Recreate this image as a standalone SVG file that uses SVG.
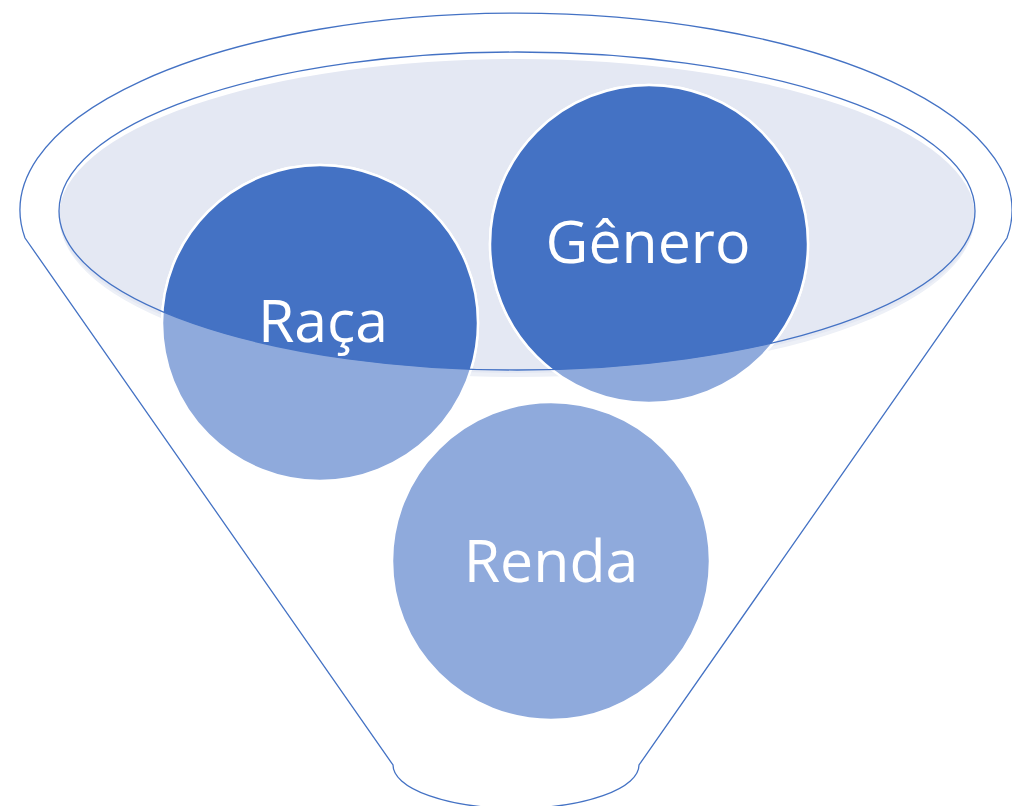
<svg xmlns="http://www.w3.org/2000/svg" width="1012" height="806" viewBox="0 0 1012 806">
<style>
.lbl{font-family:"Open Sans","Liberation Sans",Arial,sans-serif;font-size:59px;fill:#FFFFFF;text-anchor:middle}
.cl{fill:#8FAADC;stroke:#FFFFFF;stroke-width:2.5}
.cd{fill:#4472C4;stroke:#FFFFFF;stroke-width:2.5}
</style>
<defs>
<clipPath id="inner"><ellipse cx="517" cy="211" rx="458" ry="159"/></clipPath>
</defs>
<rect width="1012" height="806" fill="#FFFFFF"/>
<g id="funnel">
<path d="M 25 238 L 393 765 A 122 43 0 0 0 639 765 L 1007 238 A 496 197 0 1 0 25 238 Z" fill="#FFFFFF" stroke="#4472C4" stroke-width="1.3"/>
<ellipse cx="517" cy="219" rx="457" ry="158" fill="#EDF0F7"/>
<ellipse cx="517" cy="216" rx="458" ry="157" fill="#E4E8F3"/>
</g>
<g id="raca">
<circle class="cl" cx="320" cy="323" r="158"/>
<circle class="cd" cx="320" cy="323" r="158" clip-path="url(#inner)"/>
<text class="lbl" x="323" y="342">Raça</text>
</g>
<g id="genero">
<circle class="cl" cx="649" cy="244" r="159"/>
<circle class="cd" cx="649" cy="244" r="159" clip-path="url(#inner)"/>
<text class="lbl" x="648" y="263">Gênero</text>
</g>
<g id="renda">
<circle class="cl" cx="551" cy="561" r="159"/>
<text class="lbl" x="551" y="582">Renda</text>
</g>
<g id="connectors">
<ellipse cx="517" cy="211" rx="458" ry="159" fill="none" stroke="#4472C4" stroke-width="1.3"/>
</g>
</svg>
